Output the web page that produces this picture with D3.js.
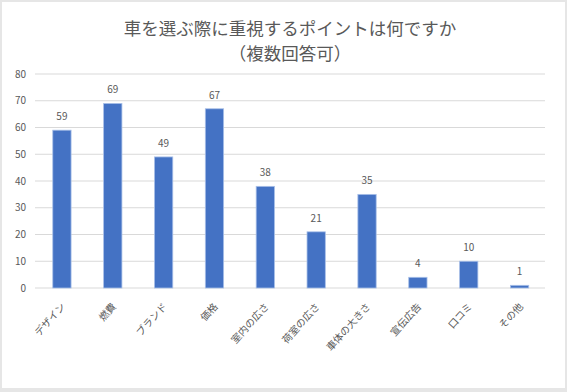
<!DOCTYPE html>
<html><head><meta charset="utf-8">
<script src="https://cdn.jsdelivr.net/npm/d3@7"></script>
<style>
html,body{margin:0;padding:0;background:#e6e6e6;}
svg{display:block;}
</style></head>
<body>
<svg id="chart" width="567" height="392"></svg>
<script>
const categories = ["デザイン","燃費","ブランド","価格","室内の広さ","荷室の広さ","車体の大きさ","宣伝広告","口コミ","その他"];
const values = [59,69,49,67,38,21,35,4,10,1];
const yTicks = [0,10,20,30,40,50,60,70,80];
const titleLines = ["車を選ぶ際に重視するポイントは何ですか","（複数回答可）"];

const svg = d3.select("#chart");
const font = "'Noto Sans CJK JP', 'Noto Sans', sans-serif";
svg.append("rect").attr("x",2).attr("y",2).attr("width",563).attr("height",386).attr("fill","#fff");

const x = d3.scaleBand().domain(categories).range([36.5,545]).paddingInner(0.64).paddingOuter(0.32);
const y = d3.scaleLinear().domain([0,80]).range([288,74]);

// gridlines
svg.append("g").selectAll("line").data(yTicks).join("line")
  .attr("x1",35).attr("x2",545)
  .attr("y1",d=>y(d)).attr("y2",d=>y(d))
  .attr("stroke","#d9d9d9").attr("stroke-width",1);

// y labels
const yAxis = d3.axisLeft(y).tickValues(yTicks).tickSize(0).tickPadding(0);
const ga = svg.append("g").attr("transform","translate(26,0)").call(yAxis);
ga.select(".domain").remove();
ga.selectAll("text").attr("fill","#595959").style("font-family",font).style("font-size","10px");

// bars
svg.append("g").selectAll("rect").data(values).join("rect")
  .attr("x",(d,i)=>x(categories[i]))
  .attr("width",x.bandwidth())
  .attr("y",d=>y(d))
  .attr("height",d=>y(0)-y(d))
  .attr("fill","#4472C4")
  .attr("stroke","#a9c0e8").attr("stroke-width",0.8);

// value labels
svg.append("g").selectAll("text").data(values).join("text")
  .attr("x",(d,i)=>x(categories[i])+x.bandwidth()/2)
  .attr("y",d=>y(d)-10)
  .attr("text-anchor","middle")
  .attr("fill","#595959").style("font-family",font).style("font-size","10px")
  .text(d=>d);

// x labels
const xAxis = d3.axisBottom(x).tickSize(0).tickPadding(0);
const gx = svg.append("g").attr("transform","translate(0,288)").call(xAxis);
gx.select(".domain").remove();
gx.selectAll("text")
  .attr("fill","#595959").style("font-family",font).style("font-size","10px")
  .attr("text-anchor","end")
  .attr("dy",0).attr("y",0)
  .attr("transform","translate(4,19) rotate(-48)");

// title
svg.append("g").selectAll("text").data(titleLines).join("text")
  .attr("x",290).attr("y",(d,i)=>35+i*25)
  .attr("text-anchor","middle")
  .attr("fill","#595959").style("font-family",font).style("font-size","17.5px")
  .text(d=>d);
</script>
</body></html>
